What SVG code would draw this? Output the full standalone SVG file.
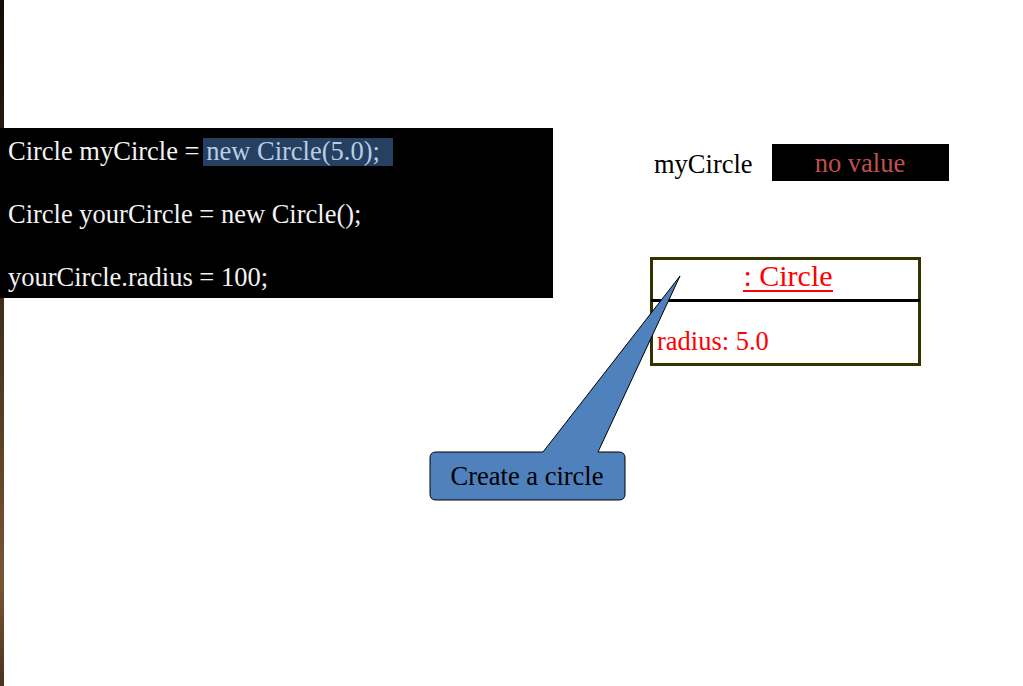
<svg xmlns="http://www.w3.org/2000/svg" width="1023" height="686" viewBox="0 0 1023 686">
<defs>
<linearGradient id="strip" x1="0" y1="0" x2="0" y2="1">
<stop offset="0" stop-color="#120c06"/>
<stop offset="0.4" stop-color="#3a2816"/>
<stop offset="0.85" stop-color="#7a5634"/>
<stop offset="1" stop-color="#4a3320"/>
</linearGradient>
<style>
text{font-family:"Liberation Serif","Times New Roman",serif;font-size:26.5px}
.code{fill:#f2f2f2}
.red{fill:#ff0000}
</style>
</defs>
<rect width="1023" height="686" fill="#ffffff"/>
<rect x="0" y="0" width="4" height="686" fill="url(#strip)"/>
<g id="code">
<rect x="0" y="128" width="553" height="170" fill="#000000"/>
<rect x="203" y="138" width="190" height="28" fill="#254061"/>
<text x="8" y="160" class="code">Circle myCircle = <tspan fill="#b9cde5">new Circle(5.0);</tspan></text>
<text x="8" y="223" class="code">Circle yourCircle = new Circle();</text>
<text x="8" y="286" class="code">yourCircle.radius = 100;</text>
</g>
<g id="myCircle">
<text x="654" y="173" fill="#000000">myCircle</text>
<rect x="772" y="144" width="177" height="37" fill="#000000"/>
<text x="860" y="172" fill="#c0504d" text-anchor="middle">no value</text>
</g>
<g id="circleObject">
<rect x="651.5" y="258.5" width="268" height="106" fill="#ffffff" stroke="#333300" stroke-width="3"/>
<line x1="651" y1="300.5" x2="920" y2="300.5" stroke="#000000" stroke-width="3"/>
<text x="788" y="286" class="red" text-anchor="middle" style="font-size:30px">: Circle</text>
<line x1="743" y1="291" x2="833" y2="291" stroke="#ff0000" stroke-width="2"/>
<text x="657" y="350" class="red">radius: 5.0</text>
</g>
<g id="callout">
<path d="M436,452 L543,452 L680,276 L598,452 L619,452 Q625,452 625,458 L625,494 Q625,500 619,500 L436,500 Q430,500 430,494 L430,458 Q430,452 436,452 Z" fill="#4f81bd" stroke="#000000" stroke-width="1"/>
<text x="527" y="485" fill="#000000" text-anchor="middle">Create a circle</text>
</g>
<g id="connectors"/>
</svg>
